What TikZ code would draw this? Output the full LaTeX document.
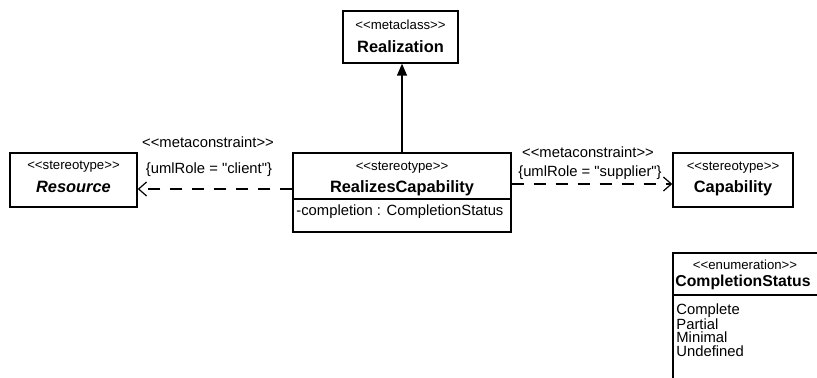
\documentclass[tikz,border=0pt]{standalone}
\usepackage{fontspec}
\setmainfont{Liberation Sans}
\usetikzlibrary{arrows.meta,positioning,calc}

\newcommand\guil[1]{<{}<#1>{}>}

\begin{document}
\begin{tikzpicture}[x=0.5pt,y=-0.5pt,
  box/.style={draw,line width=0.7pt,inner sep=0pt,fill=white},
  stereo/.style={font=\fontsize{6.6}{8}\selectfont},
  cname/.style={font=\fontsize{8.2}{10}\selectfont\bfseries},
  lbl/.style={font=\fontsize{7.4}{9}\selectfont,inner sep=1pt},
  dep/.style={line width=0.6pt,dash pattern=on 6pt off 5pt,
    -{Straight Barb[length=4pt,width=7pt,line width=0.6pt]}}]
  \useasboundingbox (0,0) rectangle (817,378);
  \clip (0,0) rectangle (817,378);

  % class boxes
  \node[box,minimum width=57.5pt,minimum height=26pt] (real) at (400.5,37) {};
  \node[box,minimum width=109pt,minimum height=39.5pt] (rc) at (402,192.5) {};
  \node[box,minimum width=63.5pt,minimum height=27pt] (res) at (73.5,180) {};
  \node[box,minimum width=60pt,minimum height=27pt] (cap) at (733,180) {};
  \node[box,minimum width=83.5pt,minimum height=73.5pt] (enum) at (756.5,326.5) {};
  \draw[line width=0.7pt] (rc.west |- 0,199) -- (rc.east |- 0,199);
  \draw[line width=0.7pt] (enum.west |- 0,295) -- (enum.east |- 0,295);

  % texts
  \node[stereo] at (400.5,25) {\guil{metaclass}};
  \node[cname] at (400.5,47) {Realization};
  \node[stereo] at (402,168) {\guil{stereotype}};
  \node[cname] at (402,188) {RealizesCapability};
  \node[lbl,anchor=west] at (294,212) {-completion : CompletionStatus};
  \node[stereo] at (73.5,167) {\guil{stereotype}};
  \node[cname,font=\fontsize{8.2}{10}\selectfont\bfseries\itshape] at (73.5,187) {Resource};
  \node[stereo] at (733,168) {\guil{stereotype}};
  \node[cname] at (733,188) {Capability};
  \node[stereo] at (745,265) {\guil{enumeration}};
  \node[cname,font=\fontsize{7.9}{10}\selectfont\bfseries,anchor=west,inner sep=0.5pt]
    at (674,282) {CompletionStatus};
  \foreach \lit [count=\k] in {Complete,Partial,Minimal,Undefined}
    \node[lbl,anchor=west] at (674,297+13.5*\k) {\lit};

  % connectors
  \draw[line width=0.7pt,-{Triangle[length=6pt,width=5pt]}]
    (rc.north) -- (rc.north |- real.south);
  \draw[dep] (rc.west |- 0,189) -- (res.east |- 0,189);
  \draw[dep] (rc.east |- 0,184) -- (cap.west |- 0,184);
  \node[lbl] (mc1) at (208,142) {\guil{metaconstraint}};
  \node[lbl] (role1) at (209,170) {\{umlRole = \textquotedbl client\textquotedbl\}};
  \node[lbl] (mc2) at (588,152) {\guil{metaconstraint}};
  \node[lbl] (role2) at (590,173) {\{umlRole = \textquotedbl supplier\textquotedbl\}};
\end{tikzpicture}
\end{document}
